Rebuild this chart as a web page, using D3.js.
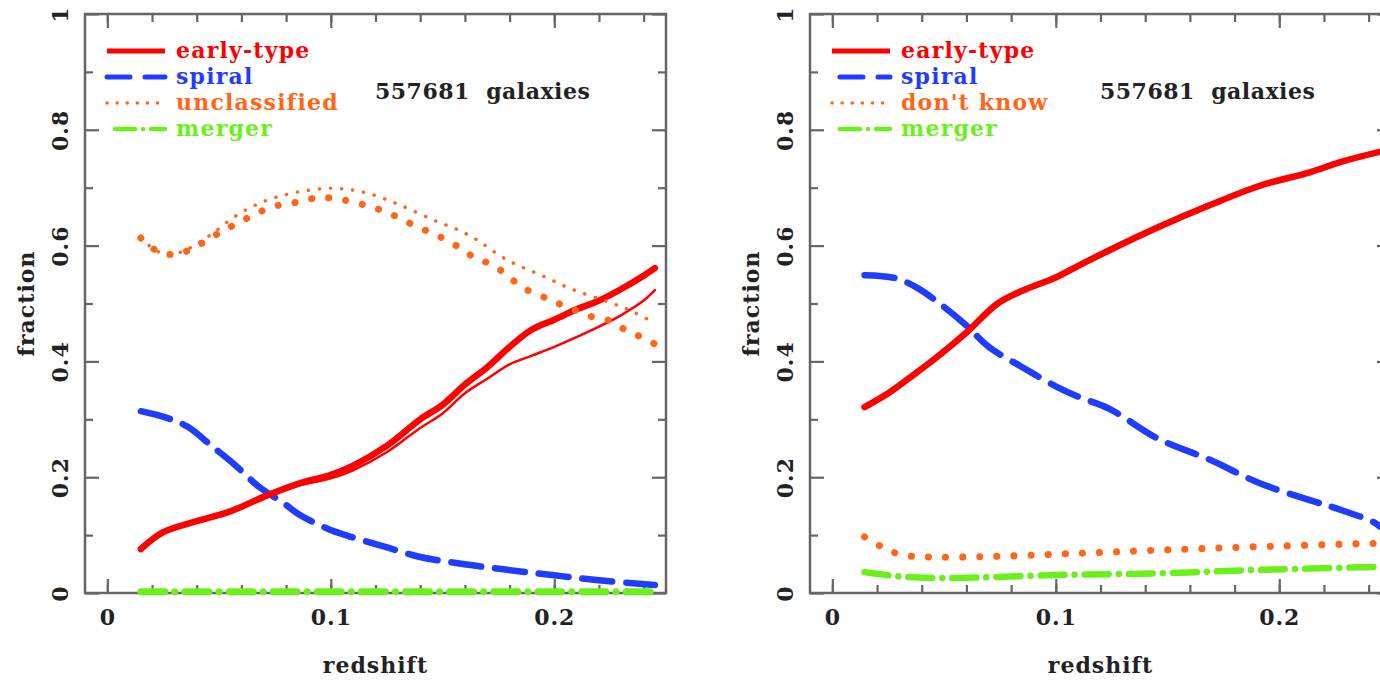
<!DOCTYPE html>
<html>
<head>
<meta charset="utf-8">
<script src="https://cdn.jsdelivr.net/npm/d3@7"></script>
<style>
  body { margin: 0; background: #fff; }
  svg text { font-family: "DejaVu Serif", serif; font-weight: bold; }
</style>
</head>
<body>
<svg id="chart" width="1380" height="680"></svg>
<script>
// axis ticks
var zTicks = [0, 0.1, 0.2];
var zMinor = [0, 0.02, 0.04, 0.06, 0.08, 0.1, 0.12, 0.14, 0.16, 0.18, 0.2, 0.22, 0.24];
var fTicks = [0, 0.2, 0.4, 0.6, 0.8, 1];
var fMinor = [0.1, 0.3, 0.5, 0.7, 0.9];

// left panel : [redshift, fraction]
var leftEarlyThick = [[0.015,0.076],[0.025,0.105],[0.04,0.124],[0.055,0.141],[0.07,0.166],[0.085,0.188],[0.1,0.204],[0.11,0.22],[0.125,0.254],[0.14,0.30],[0.15,0.325],[0.16,0.36],[0.17,0.39],[0.18,0.425],[0.19,0.455],[0.2,0.472],[0.21,0.49],[0.22,0.505],[0.23,0.525],[0.24,0.548],[0.245,0.561]];
var leftEarlyThin = [[0.015,0.076],[0.025,0.105],[0.04,0.124],[0.055,0.141],[0.07,0.165],[0.085,0.185],[0.1,0.198],[0.11,0.212],[0.125,0.243],[0.14,0.285],[0.15,0.31],[0.16,0.345],[0.17,0.37],[0.18,0.395],[0.19,0.41],[0.2,0.425],[0.21,0.442],[0.22,0.46],[0.23,0.48],[0.24,0.505],[0.245,0.523]];
var leftSpiral = [[0.015,0.314],[0.027,0.302],[0.036,0.287],[0.047,0.253],[0.056,0.225],[0.068,0.183],[0.079,0.155],[0.086,0.135],[0.098,0.112],[0.109,0.097],[0.124,0.08],[0.139,0.063],[0.154,0.053],[0.179,0.04],[0.199,0.031],[0.22,0.022],[0.245,0.014]];
var leftUnclThick = [[0.015,0.613],[0.023,0.589],[0.031,0.585],[0.038,0.595],[0.046,0.613],[0.054,0.63],[0.061,0.644],[0.068,0.658],[0.077,0.67],[0.085,0.675],[0.093,0.682],[0.101,0.682],[0.11,0.675],[0.118,0.667],[0.126,0.656],[0.134,0.641],[0.142,0.627],[0.149,0.615],[0.157,0.598],[0.164,0.58],[0.172,0.567],[0.179,0.549],[0.185,0.529],[0.193,0.515],[0.2,0.503],[0.209,0.489],[0.217,0.477],[0.225,0.47],[0.232,0.454],[0.239,0.442],[0.245,0.43]];
var leftUnclThin = [[0.015,0.613],[0.023,0.589],[0.031,0.587],[0.038,0.598],[0.046,0.618],[0.059,0.655],[0.072,0.679],[0.086,0.693],[0.101,0.699],[0.116,0.691],[0.131,0.67],[0.146,0.644],[0.157,0.627],[0.164,0.613],[0.179,0.575],[0.194,0.549],[0.209,0.523],[0.224,0.503],[0.235,0.486],[0.245,0.466]];
var leftMerger = [[0.015,0.002],[0.06,0.002],[0.1,0.002],[0.15,0.002],[0.2,0.002],[0.245,0.002]];

// right panel
var rightEarly = [[0.0144,0.321],[0.025,0.345],[0.035,0.373],[0.047,0.408],[0.06,0.45],[0.074,0.5],[0.085,0.522],[0.1,0.545],[0.11,0.565],[0.124,0.592],[0.146,0.632],[0.169,0.67],[0.191,0.703],[0.214,0.727],[0.228,0.745],[0.245,0.762]];
var rightSpiral = [[0.0144,0.549],[0.028,0.544],[0.038,0.527],[0.05,0.494],[0.06,0.462],[0.07,0.425],[0.085,0.39],[0.1,0.357],[0.11,0.339],[0.124,0.318],[0.146,0.266],[0.169,0.23],[0.191,0.19],[0.214,0.16],[0.228,0.143],[0.242,0.123],[0.245,0.115]];
var rightDontKnow = [[0.0144,0.097],[0.022,0.08],[0.031,0.066],[0.047,0.062],[0.07,0.063],[0.107,0.068],[0.146,0.074],[0.191,0.08],[0.245,0.086]];
var rightMerger = [[0.0144,0.036],[0.032,0.028],[0.055,0.026],[0.1,0.031],[0.146,0.034],[0.191,0.04],[0.245,0.045]];

var red = "#ff0000", blue = "#1f3cff", orange = "#ff6618", green = "#6cf01c";

var styles = {
  early:   { color: red,    dash: null,         lw: 5 },
  spiral:  { color: blue,   dash: "23,15",      lw: 5 },
  unclass: { color: orange, dash: "0.1,10",     lw: 3.5 },
  merger:  { color: green,  dash: "20,8,0.1,8", lw: 4.5 }
};

var svg = d3.select("#chart");
var yTop = 14, yBot = 593, pw = 581;
var fs = 22;

function drawPanel(left, legend, series) {
  var x = d3.scaleLinear().domain([-0.01, 0.25]).range([left, left + pw]);
  var y = d3.scaleLinear().domain([0, 1]).range([yBot, yTop]);
  var g = svg.append("g");
  var axisColor = "#666";

  function styleAxis(sel) {
    sel.select(".domain").remove();
    sel.selectAll("line").attr("stroke", axisColor).attr("stroke-width", 2.2);
  }

  // major / minor ticks, all pointing inward
  g.append("g").attr("transform", "translate(0," + yBot + ")")
    .call(d3.axisBottom(x).tickValues(zMinor).tickSize(-8).tickFormat("")).call(styleAxis);
  g.append("g").attr("transform", "translate(0," + yBot + ")")
    .call(d3.axisBottom(x).tickValues(zTicks).tickSize(-14).tickPadding(16).tickFormat(function(d){ return d; }))
    .call(styleAxis)
    .selectAll("text").attr("font-size", fs).attr("fill", "#222").attr("letter-spacing", 1);
  g.append("g").attr("transform", "translate(0," + yTop + ")")
    .call(d3.axisTop(x).tickValues(zMinor).tickSize(-8).tickFormat("")).call(styleAxis);
  g.append("g").attr("transform", "translate(0," + yTop + ")")
    .call(d3.axisTop(x).tickValues(zTicks).tickSize(-14).tickFormat("")).call(styleAxis);

  g.append("g").attr("transform", "translate(" + left + ",0)")
    .call(d3.axisLeft(y).tickValues(fMinor).tickSize(-8).tickFormat("")).call(styleAxis);
  var yl = g.append("g").attr("transform", "translate(" + left + ",0)")
    .call(d3.axisLeft(y).tickValues(fTicks).tickSize(-14).tickFormat(function(d){ return d; }))
    .call(styleAxis);
  yl.selectAll("text")
    .attr("x", null).attr("dy", null)
    .attr("text-anchor", "middle")
    .attr("transform", "translate(-17,0) rotate(-90)")
    .attr("font-size", fs).attr("fill", "#222").attr("letter-spacing", 1);
  g.append("g").attr("transform", "translate(" + (left + pw) + ",0)")
    .call(d3.axisRight(y).tickValues(fMinor).tickSize(-8).tickFormat("")).call(styleAxis);
  g.append("g").attr("transform", "translate(" + (left + pw) + ",0)")
    .call(d3.axisRight(y).tickValues(fTicks).tickSize(-14).tickFormat("")).call(styleAxis);

  // frame
  g.append("rect")
    .attr("x", left).attr("y", yTop).attr("width", pw).attr("height", yBot - yTop)
    .attr("fill", "none").attr("stroke", axisColor).attr("stroke-width", 2.5);

  // axis titles
  g.append("text").attr("x", left + pw / 2).attr("y", 673)
    .attr("text-anchor", "middle").attr("font-size", fs).attr("letter-spacing", 1)
    .attr("fill", "#222").text("redshift");
  g.append("text").attr("transform", "translate(" + (left - 51) + "," + ((yTop + yBot) / 2) + ") rotate(-90)")
    .attr("text-anchor", "middle").attr("font-size", fs).attr("letter-spacing", 1)
    .attr("fill", "#222").text("fraction");

  // data lines
  var line = d3.line().x(function(d){ return x(d[0]); }).y(function(d){ return y(d[1]); })
    .curve(d3.curveCatmullRom);
  series.forEach(function(s) {
    g.append("path").datum(s.data)
      .attr("d", line)
      .attr("fill", "none")
      .attr("stroke", s.color)
      .attr("stroke-width", s.lw)
      .attr("stroke-dasharray", s.dash)
      .attr("stroke-linecap", "round")
      .attr("stroke-linejoin", "round");
  });

  // legend
  legend.forEach(function(l, i) {
    var st = styles[l.key];
    var ly = 51 + 26 * i;
    g.append("line")
      .attr("x1", left + (l.key == "merger" || (l.key == "spiral" && left > 500) ? 30 : 22))
      .attr("x2", left + 80)
      .attr("y1", ly).attr("y2", ly)
      .attr("stroke", st.color).attr("stroke-width", st.lw)
      .attr("stroke-dasharray", st.dash)
      .attr("stroke-linecap", st.dash ? "round" : "butt");
    g.append("text").attr("x", left + 91).attr("y", ly + 7)
      .attr("font-size", fs).attr("letter-spacing", 1.2)
      .attr("fill", st.color).text(l.label);
  });

  g.append("text").attr("x", left + 290).attr("y", 99)
    .attr("font-size", fs).attr("letter-spacing", 0.5)
    .attr("fill", "#222").attr("xml:space", "preserve").text("557681  galaxies");
}

drawPanel(85,
  [{key: "early", label: "early-type"}, {key: "spiral", label: "spiral"},
   {key: "unclass", label: "unclassified"}, {key: "merger", label: "merger"}],
  [
    {data: leftSpiral,     color: blue,   lw: 6.5, dash: "30,14"},
    {data: leftEarlyThin,  color: red,    lw: 2.5, dash: null},
    {data: leftEarlyThick, color: red,    lw: 6.5, dash: null},
    {data: leftUnclThin,   color: orange, lw: 3.5, dash: "0.1,11"},
    {data: leftUnclThick,  color: orange, lw: 7,   dash: "0.1,17"},
    {data: leftMerger,     color: green,  lw: 7,   dash: "24,10,0.1,10"}
  ]);

drawPanel(810,
  [{key: "early", label: "early-type"}, {key: "spiral", label: "spiral"},
   {key: "unclass", label: "don't know"}, {key: "merger", label: "merger"}],
  [
    {data: rightSpiral,   color: blue,   lw: 6.5, dash: "30,14"},
    {data: rightEarly,    color: red,    lw: 6.5, dash: null},
    {data: rightDontKnow, color: orange, lw: 7,   dash: "0.1,17"},
    {data: rightMerger,   color: green,  lw: 6.5, dash: "24,10,0.1,10"}
  ]);
</script>
</body>
</html>
